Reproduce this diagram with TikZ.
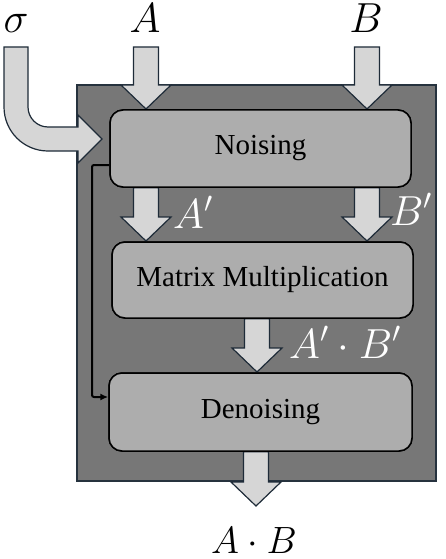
\RequirePackage{fix-cm}
\documentclass[tikz,border=0pt]{standalone}
\usepackage[no-math]{fontspec}
\setmainfont{Liberation Serif}
\usetikzlibrary{calc,arrows.meta}
\definecolor{outerfill}{HTML}{777777}
\definecolor{outerline}{HTML}{26323E}
\definecolor{boxfill}{HTML}{ADADAD}
\definecolor{arrfill}{HTML}{D6D6D6}
\definecolor{arrline}{HTML}{1E2B38}
\tikzset{
  outerbox/.style={draw=outerline, fill=outerfill, line width=1.5pt, inner sep=0pt},
  stagebox/.style={draw=black, fill=boxfill, line width=1.5pt, rounded corners=13pt, inner sep=0pt,
    font=\fontsize{29}{33}\selectfont},
  blockarrow/.style={draw=arrline, fill=arrfill, line width=1.2pt, line join=miter},
  biglabel/.style={inner sep=0pt, anchor=base, font=\fontsize{42}{46}\selectfont},
  whitelabel/.style={inner sep=0pt, anchor=base west, text=white, font=\fontsize{42}{46}\selectfont},
  feedback/.style={draw=black, line width=2pt, rounded corners=2pt, -{Latex[length=8pt,width=7pt]}},
}
% #1 = shaft start (top centre), #2 = tip
\newcommand{\dnarrow}[2]{%
  \draw[blockarrow] ($(#2 |- #1)+(-12.5,0)$) -- ($(#2)+(-12.5,-24)$) -- ($(#2)+(-25,-24)$) -- (#2)
    -- ($(#2)+(25,-24)$) -- ($(#2)+(12.5,-24)$) -- ($(#2 |- #1)+(12.5,0)$) -- cycle;}
\begin{document}
\begin{tikzpicture}[x=1pt,y=-1pt]
\useasboundingbox (0,0) rectangle (446,559);

% outer container
\node[outerbox, minimum width=359pt, minimum height=396pt] (outer) at (256.5,283) {};

% stages
\node[stagebox, minimum width=301pt, minimum height=77pt] (noising) at (260.5,148.5) {Noising};
\node[stagebox, minimum width=301pt, minimum height=76pt] (mm) at (262.5,280) {Matrix Multiplication};
\node[stagebox, minimum width=303pt, minimum height=78pt] (denoise) at (260.5,412) {Denoising};

% input labels
\node[biglabel] (sig) at (16,33) {$\sigma$};
\node[biglabel] (la) at (145,33) {$A$};
\node[biglabel] (lb) at (366,33) {$B$};

% coordinates for block arrows
\coordinate (atop) at (146,47);
\coordinate (atip) at (146,109);
\coordinate (btop) at (367,47);
\coordinate (btip) at (367,109);
\coordinate (aptip) at (146,241);
\coordinate (bptip) at (367,241);
\coordinate (abtip) at (257,372);
\coordinate (outtip) at (256,506);

% sigma arrow
\draw[blockarrow] (4,47) -- (4,107) .. controls (4,131.3) and (23.7,151) .. (48,151)
  -- (78,151) -- (78,163) -- (102,139) -- (78,115) -- (78,127) -- (48,127)
  .. controls (37,127) and (28,118) .. (28,107) -- (28,47) -- cycle;

\dnarrow{atop}{atip}
\dnarrow{btop}{btip}
\dnarrow{noising.south}{aptip}
\dnarrow{noising.south}{bptip}
\dnarrow{mm.south}{abtip}
\dnarrow{denoise.south}{outtip}

% redraw stage boxes over arrow bases
\node[stagebox, minimum width=301pt, minimum height=77pt] at (noising) {Noising};
\node[stagebox, minimum width=301pt, minimum height=76pt] at (mm) {Matrix Multiplication};
\node[stagebox, minimum width=303pt, minimum height=78pt] at (denoise) {Denoising};

% intermediate labels
\node[whitelabel] (lap) at (173,228) {$A'$};
\node[whitelabel] (lbp) at (390,225) {$B'$};
\node[whitelabel] (lab) at (289,358) {$A'\cdot B'$};

% output label
\node[biglabel, font=\fontsize{38}{42}\selectfont] (lout) at (254,553) {$A\cdot B$};

% feedback line
\coordinate (fbs) at ($(noising.west)+(0,16.5)$);
\coordinate (fbe) at ($(denoise.west)+(0,-15)$);
\draw[feedback] (fbs) -- ($(fbs -| 92,0)$) |- (fbe);
\end{tikzpicture}
\end{document}
